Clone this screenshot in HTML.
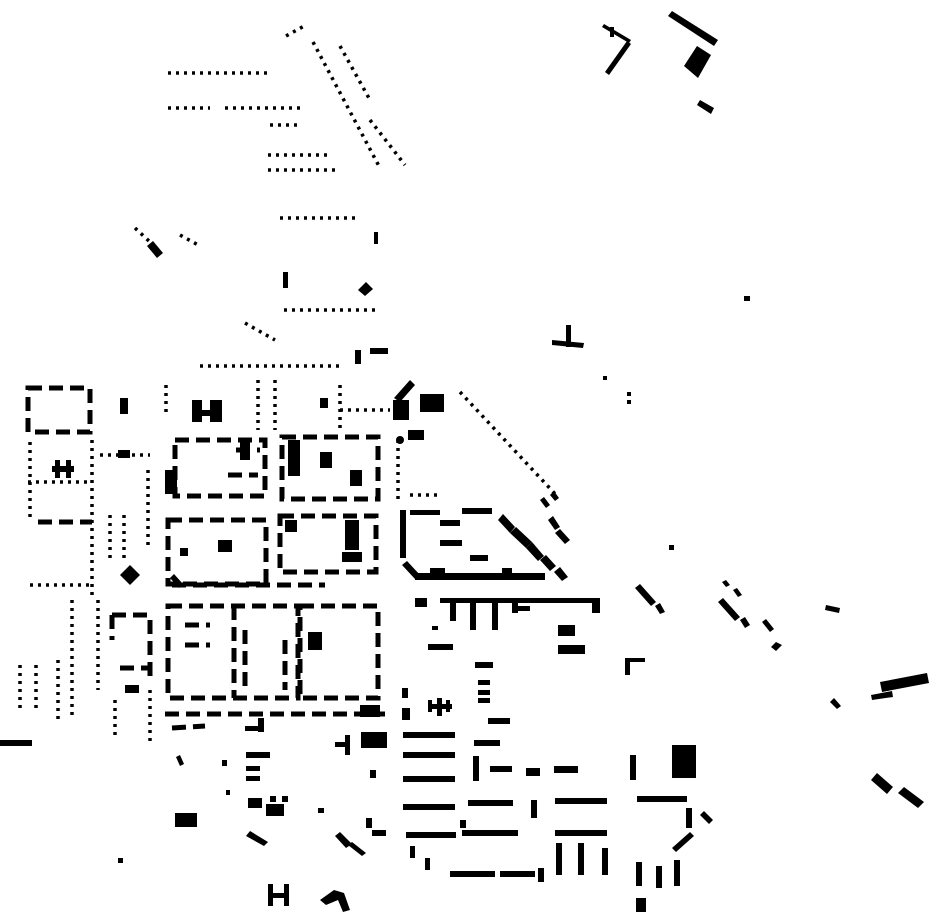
<!DOCTYPE html>
<html><head><meta charset="utf-8"><style>html,body{margin:0;padding:0;background:#fff}svg{display:block}</style></head>
<body>
<svg width="930" height="924" viewBox="0 0 930 924" xmlns="http://www.w3.org/2000/svg">
<g fill="#000" stroke="none">
<polygon points="668,16 672,11 718,40 714,46"/>
<polygon points="684,66 697,46 711,55 698,78"/>
<polygon points="697,105 700,100 714,108 711,114"/>
<polygon points="605,72 627,41 631,44 609,75"/>
<polygon points="602,27 604,24 631,40 629,43"/>
<rect x="610" y="27" width="4" height="10"/>
<rect x="744" y="296" width="6" height="5"/>
<rect x="566" y="325" width="5" height="22"/>
<polygon points="552,340 584,343 583,348 552,345"/>
<rect x="603" y="376" width="4" height="4"/><rect x="627" y="392" width="4" height="4"/><rect x="627" y="400" width="4" height="4"/>
<polygon points="880,682 927,673 929,683 882,692"/>
<polygon points="871,695 892,691 893,697 872,700"/>
<polygon points="871,780 877,773 893,787 887,794"/>
<polygon points="898,793 904,787 924,802 918,808"/>
<polygon points="826,605 840,608 839,613 825,610"/>
<polygon points="830,702 834,698 841,706 837,709"/>
<rect x="669" y="545" width="5" height="5"/>
<rect x="415" y="598" width="12" height="9"/>
<rect x="440" y="598" width="160" height="5"/>
<rect x="470" y="598" width="6" height="32"/><rect x="492" y="598" width="6" height="32"/>
<rect x="450" y="603" width="6" height="18"/>
<rect x="512" y="598" width="6" height="15"/><rect x="518" y="606" width="12" height="5"/>
<rect x="592" y="598" width="8" height="15"/>
<rect x="558" y="625" width="17" height="11"/><rect x="558" y="645" width="27" height="9"/>
<rect x="428" y="644" width="25" height="6"/>
<rect x="432" y="626" width="6" height="4"/>
<rect x="625" y="660" width="5" height="15"/><rect x="625" y="658" width="20" height="4"/>
<polygon points="635,588 640,584 656,602 651,606"/>
<polygon points="655,606 660,603 665,612 660,614"/>
<polygon points="718,602 723,598 740,617 735,621"/>
<polygon points="740,620 745,617 750,625 745,628"/>
<polygon points="762,622 766,619 774,629 770,632"/>
<polygon points="771,647 776,642 782,645 776,651"/>
<polygon points="722,582 726,580 730,585 726,587"/>
<polygon points="733,590 737,588 742,595 738,597"/>
<polygon points="498,520 503,514 515,527 510,533"/>
<polygon points="510,533 516,527 532,542 526,548"/>
<polygon points="526,548 532,542 544,556 538,561"/>
<polygon points="540,560 546,555 556,566 550,571"/>
<polygon points="548,520 553,516 560,527 555,530"/>
<polygon points="555,533 560,529 570,540 565,544"/>
<polygon points="554,572 560,567 568,577 562,581"/>
<polygon points="540,500 544,497 550,505 546,508"/>
<polygon points="550,495 554,491 559,498 555,501"/>
<rect x="400" y="510" width="6" height="48"/>
<rect x="410" y="510" width="30" height="5"/>
<rect x="462" y="508" width="30" height="6"/>
<rect x="440" y="520" width="20" height="6"/>
<rect x="440" y="540" width="22" height="6"/>
<rect x="470" y="555" width="18" height="6"/>
<polygon points="402,565 407,561 420,575 415,579"/>
<rect x="415" y="573" width="130" height="7"/>
<rect x="430" y="568" width="15" height="6"/>
<rect x="502" y="568" width="10" height="6"/>
<rect x="403" y="732" width="52" height="6"/>
<rect x="403" y="752" width="52" height="6"/>
<rect x="403" y="776" width="52" height="6"/>
<rect x="403" y="804" width="52" height="6"/>
<rect x="406" y="832" width="50" height="6"/>
<rect x="468" y="800" width="45" height="6"/>
<rect x="531" y="800" width="6" height="18"/>
<rect x="555" y="798" width="52" height="6"/>
<rect x="462" y="830" width="56" height="6"/>
<rect x="555" y="830" width="52" height="6"/>
<rect x="556" y="843" width="6" height="32"/><rect x="578" y="843" width="6" height="32"/><rect x="602" y="848" width="6" height="27"/>
<rect x="450" y="871" width="45" height="6"/><rect x="500" y="871" width="35" height="6"/><rect x="538" y="868" width="6" height="14"/>
<rect x="410" y="846" width="5" height="12"/><rect x="425" y="858" width="5" height="12"/>
<rect x="636" y="862" width="6" height="24"/><rect x="656" y="866" width="6" height="22"/><rect x="674" y="860" width="6" height="26"/>
<rect x="636" y="898" width="10" height="14"/>
<polygon points="672,848 690,832 694,836 676,852"/>
<rect x="686" y="808" width="6" height="20"/>
<polygon points="700,815 704,811 713,820 709,824"/>
<rect x="637" y="796" width="50" height="6"/>
<rect x="672" y="745" width="24" height="33"/>
<rect x="630" y="755" width="6" height="25"/>
<rect x="474" y="740" width="26" height="6"/>
<rect x="473" y="756" width="6" height="25"/>
<rect x="490" y="766" width="22" height="6"/><rect x="526" y="768" width="14" height="8"/><rect x="554" y="766" width="24" height="7"/>
<rect x="488" y="718" width="22" height="6"/>
<rect x="475" y="662" width="18" height="6"/>
<rect x="478" y="680" width="12" height="5"/><rect x="478" y="690" width="12" height="5"/><rect x="478" y="698" width="12" height="5"/>
<rect x="460" y="820" width="6" height="8"/>
<rect x="361" y="732" width="26" height="16"/>
<rect x="335" y="742" width="14" height="5"/><rect x="345" y="735" width="5" height="20"/>
<rect x="370" y="770" width="6" height="8"/>
<rect x="402" y="688" width="6" height="10"/><rect x="402" y="708" width="8" height="12"/>
<rect x="430" y="704" width="22" height="5"/><rect x="437" y="698" width="5" height="18"/><rect x="428" y="700" width="4" height="12"/><rect x="446" y="700" width="4" height="12"/>
<rect x="366" y="818" width="6" height="10"/><rect x="372" y="830" width="14" height="6"/>
<polygon points="335,836 340,832 352,844 346,848"/>
<polygon points="348,845 352,842 366,853 362,856"/>
<rect x="318" y="808" width="6" height="5"/>
<rect x="268" y="884" width="5" height="22"/><rect x="284" y="884" width="5" height="22"/><rect x="268" y="893" width="20" height="5"/>
<polygon points="320,900 334,890 344,893 350,910 343,912 338,900 326,905"/>
<rect x="175" y="813" width="22" height="14"/>
<rect x="118" y="858" width="5" height="5"/>
<polygon points="246,836 250,831 268,842 264,846"/>
<rect x="248" y="798" width="14" height="10"/><rect x="266" y="804" width="18" height="12"/><rect x="270" y="796" width="6" height="6"/><rect x="282" y="796" width="6" height="6"/>
<rect x="246" y="752" width="24" height="6"/><rect x="246" y="766" width="14" height="5"/><rect x="246" y="776" width="14" height="5"/>
<rect x="222" y="760" width="5" height="6"/><rect x="226" y="790" width="4" height="5"/>
<polygon points="176,757 180,755 184,764 180,766"/>
<rect x="0" y="740" width="32" height="6"/>
</g>
<g fill="none" stroke="#000">
<g stroke-width="3.5" stroke-dasharray="3 5">
<line x1="168" y1="73" x2="272" y2="73"/>
<line x1="168" y1="108" x2="210" y2="108"/>
<line x1="225" y1="108" x2="300" y2="108"/>
<line x1="270" y1="125" x2="298" y2="125"/>
<line x1="268" y1="155" x2="330" y2="155"/>
<line x1="268" y1="170" x2="338" y2="170"/>
<line x1="286" y1="36" x2="306" y2="25"/>
<line x1="313" y1="42" x2="380" y2="168"/>
<line x1="340" y1="46" x2="370" y2="100"/>
<line x1="370" y1="120" x2="405" y2="165"/>
<line x1="280" y1="218" x2="360" y2="218"/>
<line x1="284" y1="310" x2="380" y2="310"/>
<line x1="460" y1="392" x2="558" y2="497"/>
<line x1="180" y1="235" x2="200" y2="246"/>
<line x1="135" y1="228" x2="150" y2="242"/>
<line x1="200" y1="366" x2="340" y2="366"/>
<line x1="245" y1="323" x2="275" y2="340"/>
<line x1="258" y1="380" x2="258" y2="430"/>
<line x1="275" y1="380" x2="275" y2="430"/>
<line x1="340" y1="385" x2="340" y2="430"/>
<line x1="340" y1="410" x2="390" y2="410"/>
<line x1="166" y1="385" x2="166" y2="412"/>
<line x1="30" y1="442" x2="30" y2="520"/>
<line x1="92" y1="440" x2="92" y2="600"/>
<line x1="110" y1="515" x2="110" y2="560"/>
<line x1="124" y1="515" x2="124" y2="560"/>
<line x1="30" y1="585" x2="90" y2="585"/>
<line x1="72" y1="600" x2="72" y2="720"/>
<line x1="58" y1="660" x2="58" y2="720"/>
<line x1="36" y1="665" x2="36" y2="710"/>
<line x1="20" y1="665" x2="20" y2="710"/>
<line x1="98" y1="600" x2="98" y2="690"/>
<line x1="115" y1="700" x2="115" y2="740"/>
<line x1="150" y1="690" x2="150" y2="745"/>
<line x1="148" y1="470" x2="148" y2="545"/>
<line x1="398" y1="440" x2="398" y2="500"/>
<line x1="410" y1="495" x2="440" y2="495"/>
<line x1="28" y1="482" x2="90" y2="482"/>
<line x1="100" y1="455" x2="150" y2="455"/>
</g>
<g stroke-width="5" stroke-dasharray="14 7">
<rect x="168" y="520" width="98" height="64"/>
<rect x="280" y="516" width="96" height="56"/>
<rect x="168" y="606" width="130" height="92"/>
<rect x="300" y="606" width="78" height="92"/>
<line x1="234" y1="606" x2="234" y2="698"/>
<line x1="172" y1="585" x2="325" y2="585"/>
<line x1="165" y1="714" x2="385" y2="714"/>
<line x1="172" y1="728" x2="205" y2="726"/>
<rect x="175" y="440" width="90" height="56"/>
<rect x="282" y="437" width="96" height="62"/>
<rect x="28" y="388" width="62" height="44"/>
<line x1="38" y1="522" x2="92" y2="522"/>
<line x1="112" y1="615" x2="150" y2="615"/>
<line x1="150" y1="620" x2="150" y2="680"/>
<line x1="112" y1="615" x2="112" y2="640"/>
<line x1="120" y1="668" x2="150" y2="668"/>
<line x1="236" y1="450" x2="260" y2="450"/>
<line x1="228" y1="475" x2="258" y2="475"/>
<line x1="185" y1="625" x2="210" y2="625"/>
<line x1="185" y1="645" x2="210" y2="645"/>
<line x1="245" y1="630" x2="245" y2="690"/>
<line x1="285" y1="640" x2="285" y2="690"/>
</g>
</g>
<g fill="#000">
<rect x="420" y="394" width="24" height="18"/>
<rect x="408" y="430" width="16" height="10"/>
<circle cx="400" cy="440" r="4"/>
<polygon points="394,398 410,380 415,385 400,402"/>
<rect x="393" y="400" width="16" height="20"/>
<rect x="218" y="540" width="14" height="12"/>
<rect x="345" y="520" width="14" height="30"/>
<rect x="342" y="552" width="20" height="10"/>
<rect x="288" y="440" width="12" height="36"/>
<rect x="285" y="520" width="12" height="12"/>
<rect x="308" y="632" width="14" height="18"/>
<rect x="192" y="400" width="10" height="22"/><rect x="192" y="410" width="30" height="6"/><rect x="210" y="400" width="12" height="22"/>
<rect x="120" y="398" width="8" height="16"/>
<rect x="52" y="466" width="22" height="6"/><rect x="55" y="460" width="5" height="18"/><rect x="66" y="460" width="5" height="18"/>
<polygon points="120,575 130,565 140,575 130,585"/>
<polygon points="170,578 174,574 183,584 179,588"/>
<rect x="125" y="685" width="14" height="8"/>
<rect x="118" y="450" width="12" height="8"/>
<rect x="165" y="470" width="12" height="24"/>
<rect x="320" y="452" width="12" height="16"/>
<rect x="350" y="470" width="12" height="16"/>
<rect x="283" y="272" width="5" height="16"/>
<rect x="374" y="232" width="4" height="12"/>
<polygon points="358,290 366,282 373,289 365,296"/>
<polygon points="147,246 153,241 163,253 157,258"/>
<rect x="355" y="350" width="6" height="14"/>
<rect x="370" y="348" width="18" height="6"/>
<rect x="320" y="398" width="8" height="10"/>
<rect x="240" y="440" width="10" height="20"/>
<rect x="180" y="548" width="8" height="8"/>
<rect x="258" y="718" width="6" height="14"/><rect x="245" y="726" width="18" height="5"/>
<rect x="360" y="705" width="20" height="12"/>
</g>
</svg>
</body></html>
